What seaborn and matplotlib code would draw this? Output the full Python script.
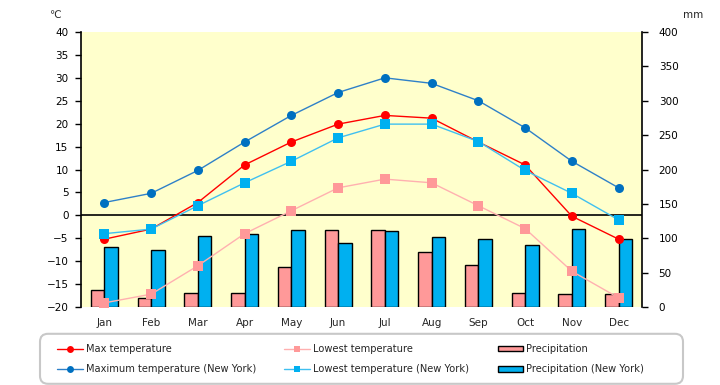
import numpy as np
import pandas as pd
import matplotlib
matplotlib.use("Agg")
import matplotlib.pyplot as plt
from matplotlib.patches import FancyBboxPatch
from matplotlib.lines import Line2D
from matplotlib.patches import Patch
import seaborn as sns

months = ["Jan", "Feb", "Mar", "Apr", "May", "Jun", "Jul", "Aug", "Sep", "Oct", "Nov", "Dec"]
max_temp = [-5.2, -3.0, 2.8, 11.0, 16.0, 19.9, 21.8, 21.2, 16.0, 11.0, -0.2, -5.2]
low_temp = [-19.1, -17.2, -11.0, -4.0, 1.0, 6.0, 7.9, 7.1, 2.1, -2.9, -12.2, -18.0]
max_ny = [2.8, 4.8, 9.8, 16.0, 21.8, 26.8, 30.0, 28.8, 25.0, 19.1, 11.8, 6.0]
low_ny = [-4.0, -3.0, 2.1, 7.1, 11.8, 16.9, 19.9, 19.9, 16.1, 9.8, 4.8, -1.0]
precip = [24.3, 13.0, 20.0, 20.0, 57.7, 111.5, 111.5, 79.5, 60.6, 20.0, 18.4, 18.4]
precip_ny = [86.8, 82.9, 103.0, 106.0, 111.5, 92.6, 110.5, 101.4, 98.5, 89.7, 113.5, 98.5]

sns.set_style("white")
plt.rcParams['font.family'] = ['DejaVu Sans']
plt.rcParams['font.size'] = 7.5

fig = plt.figure(figsize=(7.2, 3.85), dpi=100)
ax2 = fig.add_axes([81/720, 1-307/385, 561/720, 275/385])   # precipitation (right)
ax = ax2.twinx()                                             # temperature (left)
ax.yaxis.tick_left()
ax2.yaxis.tick_right()
ax.set_zorder(ax2.get_zorder() + 1)
ax.patch.set_visible(False)
ax2.set_facecolor("#FFFFCC")

# bars
bars = pd.DataFrame({
    "month": months * 2,
    "mm": precip + precip_ny,
    "kind": ["Precipitation"] * 12 + ["Precipitation (New York)"] * 12,
})
sns.barplot(data=bars, x="month", y="mm", hue="kind", order=months,
            palette=["#FF9999", "#00B0F0"], width=0.58, edgecolor="black",
            linewidth=1, saturation=1, legend=False, ax=ax2)

# lines
pos = np.arange(len(months))
series = [
    (max_temp, "#FF0000", "#FF0000", "o"),
    (low_temp, "#FFB0B0", "#FF9999", "s"),
    (max_ny, "#2E80C8", "#0070C0", "o"),
    (low_ny, "#40C0F0", "#00B0F0", "s"),
]
for vals, lc, mc, mk in series:
    sns.lineplot(x=pos, y=vals, ax=ax, color=lc, marker=mk, markersize=6.5,
                 markerfacecolor=mc, markeredgewidth=0, linewidth=1, sort=False)

ax.axhline(0, color="black", linewidth=1.2, zorder=1)

ax.set_ylim(-20, 40)
ax.set_yticks(range(-20, 41, 5))
ax2.set_ylim(0, 400)
ax2.set_yticks(range(0, 401, 50))
ax2.set_xlim(-0.5, 11.5)
ax.set_xlim(-0.5, 11.5)
ax2.set_xticks(pos)
ax2.set_xticklabels(months)
ax2.set_xlabel("")
ax2.set_ylabel("")
ax.set_ylabel("")

for a in (ax, ax2):
    for s in a.spines.values():
        s.set_visible(False)
ax.spines["left"].set_visible(True)
ax.spines["left"].set_color("black")
ax.spines["left"].set_linewidth(1.2)
ax2.spines["right"].set_visible(True)
ax2.spines["right"].set_color("black")
ax2.spines["right"].set_linewidth(1.2)
ax.tick_params(axis="y", direction="out", length=4, width=1, colors="black", pad=5, labelsize=7.5)
ax2.tick_params(axis="y", direction="out", length=4, width=1, colors="black", pad=8, labelsize=7.5)
ax2.tick_params(axis="x", length=0, pad=8, labelsize=7.5)
ax2.grid(False)
ax.grid(False)

fig.text(55/720, 1-15/385, "℃", ha="center", va="center", fontsize=7.5)
fig.text(693/720, 1-15/385, "mm", ha="center", va="center", fontsize=7.5)

# legend box
box = FancyBboxPatch((0.40, 0.012), 6.43, 0.50,
                     boxstyle="round,pad=0,rounding_size=0.08",
                     transform=fig.dpi_scale_trans, facecolor="white",
                     edgecolor="#C8C8C8", linewidth=1.5, zorder=0)
fig.patches.append(box)

handles = [
    Line2D([], [], color="#FF0000", marker="o", markersize=5, markeredgewidth=0, linewidth=1),
    Line2D([], [], color="#2E80C8", marker="o", markerfacecolor="#0070C0", markersize=5, markeredgewidth=0, linewidth=1),
    Line2D([], [], color="#FFB0B0", marker="s", markerfacecolor="#FF9999", markersize=5, markeredgewidth=0, linewidth=1),
    Line2D([], [], color="#40C0F0", marker="s", markerfacecolor="#00B0F0", markersize=5, markeredgewidth=0, linewidth=1),
    Patch(facecolor="#FF9999", edgecolor="black", linewidth=1),
    Patch(facecolor="#00B0F0", edgecolor="black", linewidth=1),
]
labels = ["Max temperature", "Maximum temperature (New York)",
          "Lowest temperature", "Lowest temperature (New York)",
          "Precipitation", "Precipitation (New York)"]
fig.legend(handles, labels, ncol=3, loc="upper left",
           bbox_to_anchor=(52/720, 1-339/385), frameon=False, borderpad=0,
           handlelength=2.6, handletextpad=0.3, columnspacing=2.9,
           labelspacing=1.05, handleheight=0.5, fontsize=7.1)

fig.savefig("out.png", dpi=100)
